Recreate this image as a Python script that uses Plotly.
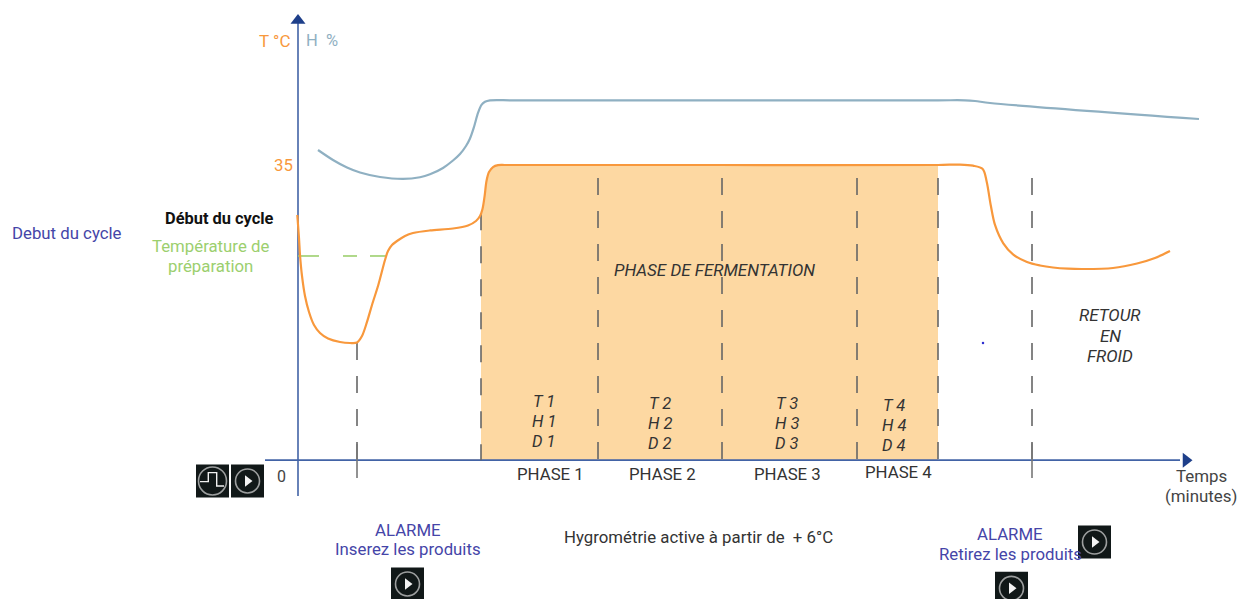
import plotly.graph_objects as go

# Data: time in minutes (arbitrary scale), temperature in deg C
temp_time = [-0.35, 0.5, 1, 2, 3.5, 5.5, 8, 11, 15, 21, 26, 29.5, 32, 34.5, 37, 40.15, 43.5, 45, 47, 49.5, 53.5, 57.5,
             66, 77.5, 85, 89, 91, 92.25, 93.25, 94.25, 95.5, 97.5, 100, 103.5, 120, 211, 320, 331, 337.5, 342.35,
             344.35, 346.35, 348.5, 352.65, 357.5, 364.5, 371, 377.5, 385, 392.5, 407.5, 419.5, 428.5, 436]
temp_vals = [29.09, 26.37, 24.36, 21.88, 19.51, 17.62, 16.08, 15.14, 14.49, 14.07, 13.95, 14.01, 14.78, 16.44, 18.45,
             20.81, 23.77, 24.83, 25.54, 26.01, 26.61, 26.96, 27.26, 27.49, 27.85, 28.38, 28.97, 29.8, 31.22, 33.11,
             34.17, 34.76, 34.98, 35, 35, 35, 35, 35.05, 34.92, 34.53, 33.03, 30.27, 27.91, 25.74, 24.44, 23.53, 23.12,
             22.88, 22.74, 22.7, 22.82, 23.35, 24, 24.83]
ferm_time = [91.5, 92.25, 93.25, 94.25, 95.5, 97.5, 100, 103.5, 120, 211, 320]
ferm_vals = [29.2, 29.8, 31.22, 33.11, 34.17, 34.76, 34.98, 35, 35, 35, 35]
hum_time = [10, 17.5, 24.5, 31, 41, 52.5, 61, 66, 72.5, 77.5, 81, 84, 86, 88, 90, 91.75, 93.5, 96, 106, 120, 320,
            333.5, 338.5, 346, 450.5]
hum_vals = [36.77, 35.59, 34.7, 34.11, 33.58, 33.35, 33.55, 33.9, 34.65, 35.53, 36.3, 37.25, 38.13, 39.49, 41.15, 42.1,
            42.47, 42.64, 42.65, 42.65, 42.65, 42.65, 42.57, 42.33, 40.44]
prep_time = [0, 10.5, None, 22.5, 29.5, None, 36, 44.5]
prep_vals = [24.24, 24.24, None, 24.24, 24.24, None, 24.24, 24.24]
base_time = [71, 91.5]
base_vals = [0.1, 0.1]
boundary_times = [29.5, 91.5, 150, 212, 279.5, 320, 367]
boundary_tops = [13.95, 29.3, 33.46, 33.46, 33.46, 33.46, 33.46]
boundary_ends = [0.1, 0.1, 0.1, 0.1, 0.1, 0.1, 0.1]
tick_times = [29.5, 367]
tick_tops = [2.0, 2.1]
tick_ends = [-2.0, -2.0]
icon_time = [-42.75, -25.25, 54.75, 398.25, 356.75]
icon_vals = [-2.36, -2.36, -14.54, -9.58, -15.06]
pulse_time = [-49, -44.85, -44.85, -40.65, -40.65, -37]
pulse_vals = [-2.44, -2.44, -1.38, -1.38, -2.96, -2.96]
dot_time = [342.5]
dot_vals = [13.95]

W, H = 1239, 599
ORANGE, HUM, GREEN, AXIS, ARROW, PURPLE, DARK = "#f8983c", "#8fb0c2", "#9ccf6e", "#4263a6", "#1e3f8a", "#4545a8", "#333333"
FONT = "Roboto"

fig = go.Figure()


def line(x, y, color, width=2, dash=None, shape="linear", **kw):
    style = dict(color=color, width=width, dash=dash, shape=shape)
    if shape == "spline":
        style["smoothing"] = 0.9
    fig.add_trace(go.Scatter(x=x, y=y, mode="lines", hoverinfo="skip", showlegend=False, line=style, **kw))


line(ferm_time, ferm_vals, "rgba(0,0,0,0)", 0, shape="spline", fill="tozeroy", fillcolor="#fdd8a2")
line(base_time, base_vals, "#fbc98a", 1.5)
line([0, 0], [-4.14, 52.5], AXIS, 1.6)
line([-16.5, 441], [0.1, 0.1], AXIS, 1.6)
for t, top, end in zip(boundary_times, boundary_tops, boundary_ends):
    line([t, t], [top, end], "#666666", 1.6, dash="17px,16px")
for t, top, end in zip(tick_times, tick_tops, tick_ends):
    line([t, t], [top, end], "#777777", 1.6)
line(prep_time, prep_vals, GREEN, 1.6)
line(hum_time, hum_vals, HUM, 2.2, shape="spline")
line(temp_time, temp_vals, ORANGE, 2.2, shape="spline")

fig.add_trace(go.Scatter(x=[0], y=[52.1], mode="markers", hoverinfo="skip", showlegend=False,
                         marker=dict(symbol="triangle-up", size=13, color=ARROW)))
fig.add_trace(go.Scatter(x=[444], y=[0.1], mode="markers", hoverinfo="skip", showlegend=False,
                         marker=dict(symbol="triangle-right", size=13, color=ARROW)))
fig.add_trace(go.Scatter(x=dot_time, y=dot_vals, mode="markers", hoverinfo="skip", showlegend=False,
                         marker=dict(size=2.5, color="#3030d0")))
fig.add_trace(go.Scatter(x=icon_time, y=icon_vals, mode="markers", hoverinfo="skip", showlegend=False,
                         marker=dict(symbol="square", size=33, color="#111818")))
fig.add_trace(go.Scatter(x=icon_time, y=icon_vals, mode="markers", hoverinfo="skip", showlegend=False,
                         marker=dict(symbol="circle-open", size=[28, 24, 24, 24, 24],
                                     line=dict(color="#d8d8d8", width=1.6), color="#d8d8d8")))
fig.add_trace(go.Scatter(x=icon_time[1:], y=icon_vals[1:], mode="markers", hoverinfo="skip", showlegend=False,
                         marker=dict(symbol="triangle-right", size=10, color="#f4f4f4")))
line(pulse_time, pulse_vals, "#f0f0f0", 1.4)


def note(px, py, text, size=16.8, color=DARK, gap=20):
    """One annotation per line so that the line spacing can be tighter than Plotly's own."""
    for i, row in enumerate(text):
        fig.add_annotation(x=px / W, y=1 - (py + i * gap) / H, xref="paper", yref="paper", text=row, showarrow=False,
                           xanchor="center", yanchor="middle", align="center",
                           font=dict(family=FONT, size=size, color=color))


note(274.5, 41, ["T °C"], 17, ORANGE)
note(322, 41, ["H\u00a0\u00a0%"], 16.5, HUM)
note(283, 165, ["35"], 16.8, ORANGE)
note(67, 233, ["Debut du cycle"], 16.8, PURPLE)
note(219, 218, ["<b>Début du cycle</b>"], 16.4, "#111111")
note(210, 246, ["Température de", "préparation"], 16.8, GREEN)
note(281, 476, ["0"], 16, "#444444")
note(714, 270, ["<i>PHASE DE FERMENTATION</i>"], 17)
note(1110, 315, ["<i>RETOUR</i>", "<i>EN</i>", "<i>FROID</i>"], 17, gap=20.5)
for px, py, n in [(544, 401, 1), (660, 403, 2), (787, 403, 3), (894, 405, 4)]:
    note(px, py, [f"<i>T {n}</i>", f"<i>H {n}</i>", f"<i>D {n}</i>"], 16.5)
for px, py, n in [(550, 474, 1), (662, 474, 2), (787, 474, 3), (898, 472, 4)]:
    note(px, py, [f"PHASE {n}"], 16.8)
note(1201, 476, ["Temps", "(minutes)"], 16.9, "#444444", gap=20)
note(408, 530, ["ALARME", "Inserez les produits"], 16.8, PURPLE, gap=19)
note(1010, 534, ["ALARME", "Retirez les produits"], 16.8, PURPLE, gap=20)
note(698, 537, ["Hygrométrie active à partir de\u00a0\u00a0+ 6°C"], 16.8)

fig.update_layout(width=W, height=H, margin=dict(l=0, r=0, t=0, b=0), autosize=False,
                  paper_bgcolor="white", plot_bgcolor="white", showlegend=False,
                  xaxis=dict(range=[-149, 470.5], visible=False, fixedrange=True),
                  yaxis=dict(range=[-16.32, 54.51], visible=False, fixedrange=True))
fig.write_html("out.html", config=dict(displayModeBar=False),
               post_script="document.body.style.margin='0';document.body.style.overflow='hidden';")
